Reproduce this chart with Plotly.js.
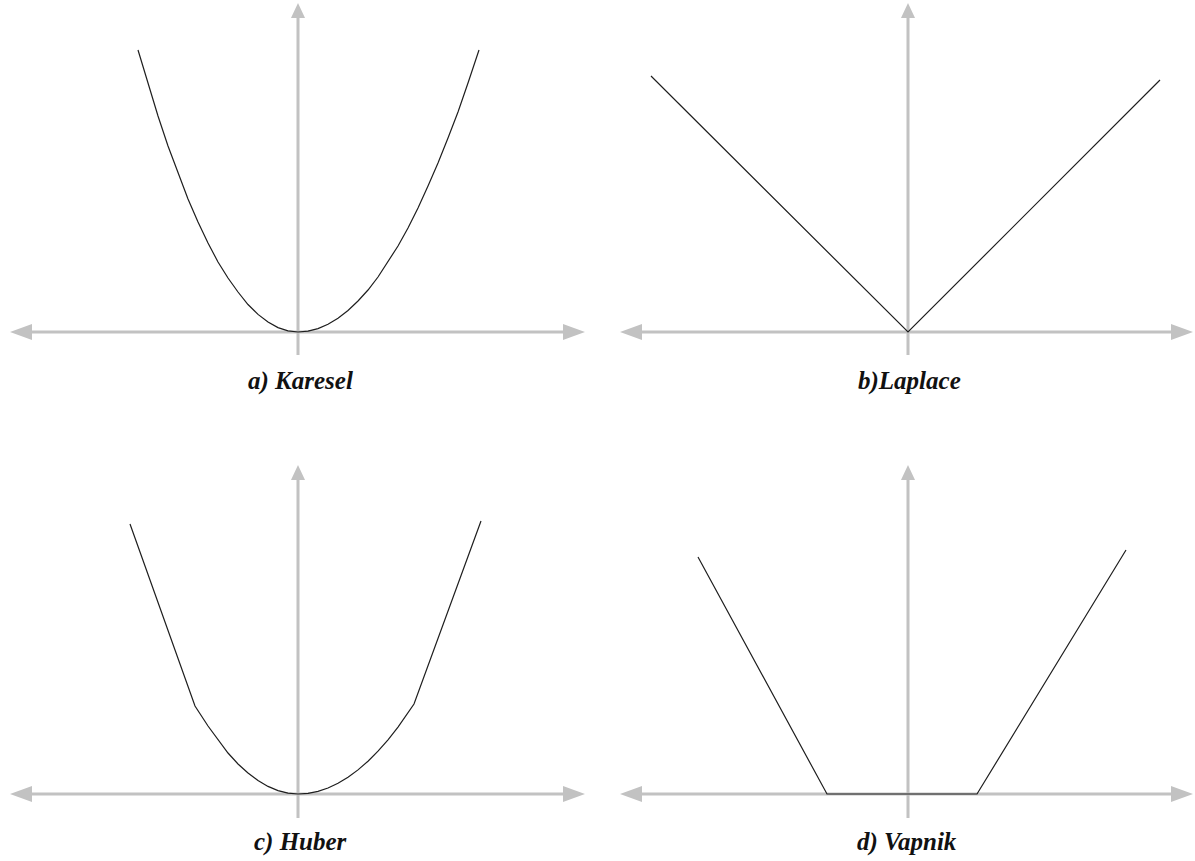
<!DOCTYPE html>
<html>
<head>
<meta charset="utf-8">
<script src="https://cdn.plot.ly/plotly-3.0.1.min.js"></script>
<style>
  html, body { margin: 0; padding: 0; background: #ffffff; }
  #chart { width: 1195px; height: 861px; }
</style>
</head>
<body>
<div id="chart"></div>
<script>
// Loss function curves (units: 1 unit = 10 px, origin at the axis crossing)
const kareselX = [-16, -15, -14, -13, -12, -11, -10, -9, -8, -7, -6, -5, -4, -3, -2, -1, 0,
                  1, 2, 3, 4, 5, 6, 7, 8, 9, 10, 11, 12, 13, 14, 15, 16, 17, 18.1];
const kareselY = [28.2, 24.8, 21.6, 18.6, 15.9, 13.3, 11.0, 8.9, 7.0, 5.4, 4.0, 2.75, 1.76, 0.99, 0.44, 0.11, 0,
                  0.09, 0.34, 0.77, 1.38, 2.15, 3.1, 4.2, 5.5, 7.0, 8.6, 10.4, 12.4, 14.6, 16.9, 19.4, 22.0, 24.9, 28.2];

const laplaceX = [-25.7, 0, 25.2];
const laplaceY = [25.6, 0, 25.2];

const huberX = [-16.8, -10.3, -9, -8, -7, -6, -5, -4, -3, -2, -1, 0,
                1, 2, 3, 4, 5, 6, 7, 8, 9, 10, 11.6, 18.3];
const huberY = [27.0, 8.8, 6.8, 5.4, 4.1, 3.0, 2.1, 1.35, 0.76, 0.34, 0.08, 0,
                0.07, 0.27, 0.6, 1.07, 1.67, 2.41, 3.28, 4.28, 5.42, 6.69, 9.0, 27.3];

const vapnikX = [-21.0, -8.1, 6.9, 21.8];
const vapnikY = [23.7, 0, 0, 24.4];

const captions = ['a) Karesel', 'b)Laplace', 'c) Huber', 'd) Vapnik'];

// Panel placement: origin pixel and the extents of the arrowed axes (in units)
const W = 1195, H = 861, PX = 10;
const panels = [
  { ox: 298, oy: 332, xpx: [0, 600],    ypx: [0, 420],   hL: -28.8, hR: 28.7, vT: 32.9, vB: -2.3, cap: [0.2, -4.9] },
  { ox: 908, oy: 332, xpx: [603, 1195], ypx: [0, 420],   hL: -28.8, hR: 28.5, vT: 32.9, vB: -2.3, cap: [0.1, -4.9] },
  { ox: 298, oy: 794, xpx: [0, 600],    ypx: [430, 861], hL: -28.8, hR: 28.7, vT: 32.9, vB: -2.4, cap: [0.2, -4.8] },
  { ox: 908, oy: 794, xpx: [603, 1195], ypx: [430, 861], hL: -28.8, hR: 28.5, vT: 32.9, vB: -2.4, cap: [-0.1, -4.8] }
];

const series = [
  [kareselX, kareselY],
  [laplaceX, laplaceY],
  [huberX, huberY],
  [vapnikX, vapnikY]
];

const AXIS_COLOR = '#c2c2c2';
const CURVE_COLOR = '#1e1e1e';
const HEAD_LEN = 2.2, HEAD_HALF_H = 0.8, HEAD_HALF_V = 0.7;

const traces = [];
const shapes = [];
const annotations = [];
const layout = {
  width: W, height: H,
  margin: { l: 0, r: 0, t: 0, b: 0 },
  paper_bgcolor: '#ffffff', plot_bgcolor: '#ffffff',
  showlegend: false,
  shapes: shapes,
  annotations: annotations
};

panels.forEach((p, i) => {
  const n = i === 0 ? '' : String(i + 1);
  const xa = 'xaxis' + n, ya = 'yaxis' + n;
  const xr = 'x' + n, yr = 'y' + n;

  layout[xa] = {
    domain: [p.xpx[0] / W, p.xpx[1] / W],
    range: [(p.xpx[0] - p.ox) / PX, (p.xpx[1] - p.ox) / PX],
    visible: false, showgrid: false, zeroline: false, fixedrange: true,
    anchor: yr
  };
  layout[ya] = {
    domain: [1 - p.ypx[1] / H, 1 - p.ypx[0] / H],
    range: [(p.oy - p.ypx[1]) / PX, (p.oy - p.ypx[0]) / PX],
    visible: false, showgrid: false, zeroline: false, fixedrange: true,
    anchor: xr
  };

  // horizontal axis line and its two arrowheads
  shapes.push({ type: 'line', xref: xr, yref: yr, layer: 'below',
    x0: p.hL + HEAD_LEN, x1: p.hR - HEAD_LEN, y0: 0, y1: 0,
    line: { color: AXIS_COLOR, width: 3 } });
  shapes.push({ type: 'path', xref: xr, yref: yr, layer: 'below',
    path: `M ${p.hL} 0 L ${p.hL + HEAD_LEN} ${HEAD_HALF_H} L ${p.hL + HEAD_LEN} ${-HEAD_HALF_H} Z`,
    fillcolor: AXIS_COLOR, line: { width: 0 } });
  shapes.push({ type: 'path', xref: xr, yref: yr, layer: 'below',
    path: `M ${p.hR} 0 L ${p.hR - HEAD_LEN} ${HEAD_HALF_H} L ${p.hR - HEAD_LEN} ${-HEAD_HALF_H} Z`,
    fillcolor: AXIS_COLOR, line: { width: 0 } });

  // vertical axis line and its top arrowhead
  shapes.push({ type: 'line', xref: xr, yref: yr, layer: 'below',
    x0: 0, x1: 0, y0: p.vB, y1: p.vT - 1.5,
    line: { color: AXIS_COLOR, width: 3 } });
  shapes.push({ type: 'path', xref: xr, yref: yr, layer: 'below',
    path: `M 0 ${p.vT} L ${HEAD_HALF_V} ${p.vT - 1.5} L ${-HEAD_HALF_V} ${p.vT - 1.5} Z`,
    fillcolor: AXIS_COLOR, line: { width: 0 } });

  // the loss curve
  traces.push({
    type: 'scatter', mode: 'lines',
    x: series[i][0], y: series[i][1],
    xaxis: xr, yaxis: yr,
    line: { color: CURVE_COLOR, width: 1.2 },
    hoverinfo: 'skip'
  });

  // panel caption
  annotations.push({
    xref: xr, yref: yr, x: p.cap[0], y: p.cap[1],
    text: '<b><i>' + captions[i] + '</i></b>',
    showarrow: false, xanchor: 'center', yanchor: 'middle',
    font: { family: 'Liberation Serif, Times New Roman, serif', size: 25, color: '#111111' }
  });
});

Plotly.newPlot('chart', traces, layout, { staticPlot: true, displayModeBar: false });
</script>
</body>
</html>
